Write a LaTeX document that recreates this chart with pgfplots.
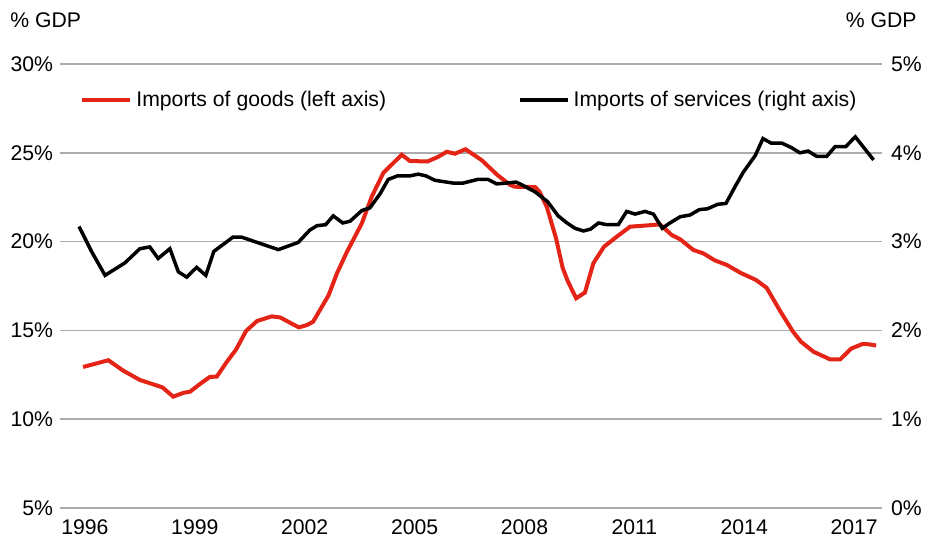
\documentclass[border=0pt]{standalone}
\usepackage{pgfplots}
\pgfplotsset{compat=1.18}
\usepackage{fontspec}
\setmainfont{Liberation Sans}
\definecolor{goodsred}{RGB}{227,36,22}
\definecolor{gridgray}{RGB}{172,172,172}
\newcommand\cf{\fontsize{10.6}{12.7}\selectfont}

\begin{document}
\begin{tikzpicture}
\useasboundingbox (-30pt,-17.5pt) rectangle (434.5pt,254pt);
\pgfplotsset{
  every axis/.append style={
    scale only axis, width=411pt, height=222pt,
    xmin=1995.32, xmax=2017.76,
    axis line style={draw=none},
    tick style={draw=none},
    /pgf/number format/assume math mode=true,
    tick label style={font=\cf},
  },
}
% left axis: goods
\begin{axis}[
    ymin=5, ymax=30,
    ytick={5,10,...,30},
    yticklabel={\pgfmathprintnumber{\tick}\%},
    xtick={1996,1999,...,2017},
    xticklabel style={/pgf/number format/1000 sep={}, yshift=-2.5pt},
    ymajorgrids,
    grid style={gridgray, line width=0.75pt},
    clip=false,
  ]
  \addplot[goodsred, line width=2pt] coordinates {
    (1995.95,12.94) (1996.64,13.32) (1997.05,12.73) (1997.50,12.21) (1998.12,11.79)
    (1998.41,11.27) (1998.70,11.49) (1998.87,11.55) (1999.14,11.98) (1999.41,12.38)
    (1999.60,12.40) (1999.88,13.25) (2000.12,13.90) (2000.40,14.97) (2000.70,15.53)
    (2001.10,15.79) (2001.33,15.73) (2001.84,15.17) (2002.06,15.30) (2002.23,15.49)
    (2002.65,16.97) (2002.88,18.21) (2003.15,19.41) (2003.56,21.03) (2003.83,22.53)
    (2004.15,23.88) (2004.65,24.89) (2004.87,24.54) (2005.35,24.51) (2005.63,24.76)
    (2005.88,25.06) (2006.10,24.95) (2006.39,25.20) (2006.83,24.59) (2007.26,23.75)
    (2007.61,23.19) (2007.74,23.09) (2008.29,23.07) (2008.41,22.81) (2008.61,21.95)
    (2008.86,20.20) (2009.04,18.54) (2009.18,17.78) (2009.41,16.81) (2009.65,17.13)
    (2009.88,18.78) (2010.17,19.71) (2010.52,20.28) (2010.88,20.84) (2011.34,20.91)
    (2011.70,20.97) (2011.84,20.71) (2012.02,20.37) (2012.25,20.13) (2012.61,19.53)
    (2012.88,19.34) (2013.20,18.94) (2013.53,18.68) (2013.89,18.25) (2014.32,17.84)
    (2014.61,17.40) (2014.98,16.09) (2015.33,14.93) (2015.55,14.36) (2015.89,13.80)
    (2016.34,13.37) (2016.62,13.37) (2016.92,13.98) (2017.22,14.23) (2017.39,14.22)
    (2017.60,14.15)
  };
  \node[anchor=base west, font=\cf, inner sep=0pt] at (rel axis cs:-0.0608,1.083) {\% GDP};
  \node[anchor=base east, font=\cf, inner sep=0pt] at (rel axis cs:1.0426,1.083) {\% GDP};
\end{axis}
% right axis: services
\begin{axis}[
    ymin=0, ymax=5,
    ytick={0,1,...,5},
    yticklabel={\pgfmathprintnumber{\tick}\%},
    axis y line*=right,
    axis x line=none,
    yticklabel style={xshift=1pt},
    legend columns=2,
    legend style={at={(0.0243,0.919)}, anchor=west, draw=none, fill=none,
      font=\cf, inner sep=0pt,
      /tikz/every even column/.append style={column sep=64pt}},
    legend image code/.code={\draw[#1] (0pt,0pt) -- (24pt,0pt);},
  ]
  \addlegendimage{goodsred, line width=2pt}
  \addlegendentry{Imports of goods (left axis)}
  \addplot[black, line width=1.75pt] coordinates {
    (1995.84,3.17) (1996.18,2.89) (1996.55,2.62) (1997.09,2.76) (1997.50,2.92)
    (1997.77,2.94) (1998.00,2.81) (1998.32,2.92) (1998.55,2.66) (1998.78,2.60)
    (1999.05,2.71) (1999.30,2.62) (1999.52,2.89) (1999.78,2.97) (2000.04,3.05)
    (2000.28,3.05) (2001.28,2.91) (2001.82,2.99) (2002.14,3.13) (2002.34,3.18)
    (2002.57,3.19) (2002.78,3.29) (2003.04,3.21) (2003.24,3.23) (2003.56,3.35)
    (2003.78,3.38) (2004.06,3.54) (2004.28,3.70) (2004.53,3.74) (2004.87,3.74)
    (2005.10,3.76) (2005.31,3.74) (2005.56,3.69) (2006.04,3.66) (2006.33,3.66)
    (2006.72,3.70) (2007.01,3.70) (2007.24,3.65) (2007.77,3.67) (2007.88,3.65)
    (2008.29,3.56) (2008.63,3.45) (2008.92,3.29) (2009.16,3.21) (2009.38,3.15)
    (2009.61,3.12) (2009.80,3.14) (2010.02,3.21) (2010.25,3.19) (2010.56,3.19)
    (2010.79,3.34) (2011.02,3.31) (2011.29,3.34) (2011.52,3.31) (2011.76,3.15)
    (2011.97,3.21) (2012.25,3.28) (2012.52,3.30) (2012.77,3.36) (2013.00,3.37)
    (2013.27,3.42) (2013.50,3.43) (2013.75,3.62) (2013.97,3.78) (2014.30,3.97)
    (2014.51,4.16) (2014.73,4.11) (2015.02,4.11) (2015.28,4.06) (2015.52,4.00)
    (2015.74,4.02) (2015.98,3.96) (2016.25,3.96) (2016.48,4.07) (2016.77,4.07)
    (2017.03,4.18) (2017.53,3.92)
  };
  \addlegendentry{Imports of services (right axis)}
\end{axis}
\end{tikzpicture}
\end{document}
